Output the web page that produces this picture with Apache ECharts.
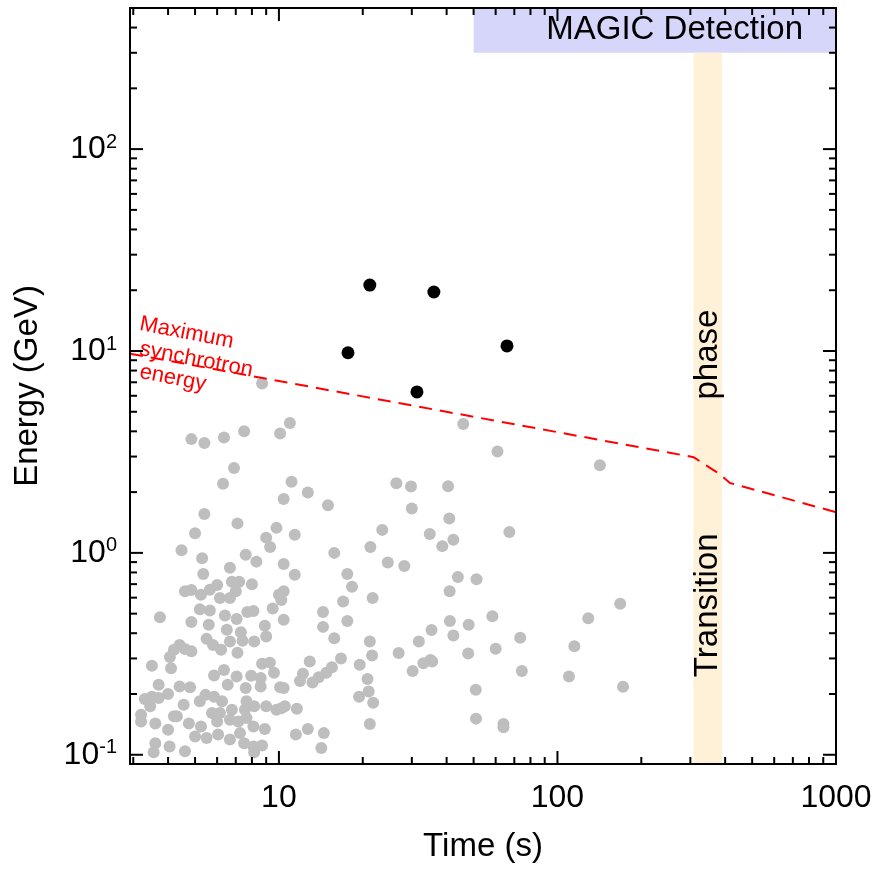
<!DOCTYPE html>
<html>
<head>
<meta charset="utf-8">
<script src="https://cdn.jsdelivr.net/npm/echarts@6/dist/echarts.min.js"></script>
<style>
  html, body { margin: 0; padding: 0; background: #fff; }
  #main { width: 881px; height: 869px; }
</style>
</head>
<body>
<div id="main"></div>
<script>
// axis ranges
const xMin = 2.92, xMax = 1000;
const yMin = 0.09, yMax = 500;

const xMajorTicks = [10, 100, 1000];
const xMinorTicks = [3, 4, 5, 6, 7, 8, 9, 20, 30, 40, 50, 60, 70, 80, 90, 200, 300, 400, 500, 600, 700, 800, 900];
const yMajorTicks = [0.1, 1, 10, 100];
const yMinorTicks = [0.2, 0.3, 0.4, 0.5, 0.6, 0.7, 0.8, 0.9, 2, 3, 4, 5, 6, 7, 8, 9, 20, 30, 40, 50, 60, 70, 80, 90, 200, 300, 400, 500];

// [time (s), energy (GeV)]
const grayPhotons = [
  [8.7, 6.9], [4.85, 3.66], [5.4, 3.5], [6.35, 3.73], [7.5, 4.0], [10.1, 3.9], [10.95, 4.4],
  [6.9, 2.63], [6.3, 2.2], [5.4, 1.56], [7.1, 1.4], [5.0, 1.25], [4.47, 1.03], [5.3, 0.94],
  [7.6, 0.98], [8.3, 0.905], [9.8, 1.33], [9.0, 1.19], [9.3, 1.07], [11.1, 2.25], [10.4, 1.85],
  [11.4, 1.23], [12.7, 1.99], [5.35, 0.785], [6.67, 0.845], [10.4, 0.88],
  [4.6, 0.645], [4.85, 0.655], [5.25, 0.62], [5.65, 0.656], [6.0, 0.694], [6.14, 0.597],
  [6.67, 0.597], [6.78, 0.72], [7.2, 0.72], [7.0, 0.645], [8.0, 0.70], [10.0, 0.62], [9.5, 0.53],
  [3.74, 0.48], [4.85, 0.454], [5.2, 0.526], [5.65, 0.518], [5.6, 0.44], [6.4, 0.49], [7.05, 0.47],
  [7.7, 0.51], [8.1, 0.515], [6.5, 0.416], [7.3, 0.405], [8.9, 0.435], [9.0, 0.385], [5.5, 0.375],
  [5.8, 0.35], [6.2, 0.331], [6.67, 0.364], [7.4, 0.367], [8.15, 0.364], [7.1, 0.32], [4.4, 0.35],
  [4.2, 0.331], [4.06, 0.305], [4.85, 0.326], [4.6, 0.334], [3.5, 0.276], [4.1, 0.268], [5.85, 0.247],
  [6.35, 0.263], [7.05, 0.244], [7.95, 0.246], [8.6, 0.24], [8.7, 0.282], [9.28, 0.286], [9.6, 0.255],
  [10.1, 0.216], [9.8, 0.167], [3.7, 0.222], [4.4, 0.218], [4.8, 0.216], [6.55, 0.222], [7.6, 0.214],
  [8.6, 0.218], [3.3, 0.189], [3.5, 0.194], [3.7, 0.191], [4.0, 0.2], [3.2, 0.158], [3.45, 0.174],
  [4.55, 0.177], [5.2, 0.184], [5.45, 0.198], [5.85, 0.194], [6.25, 0.184], [5.75, 0.161], [6.14, 0.161],
  [6.78, 0.167], [7.65, 0.184], [8.15, 0.174], [9.0, 0.174], [3.2, 0.146], [3.6, 0.143], [4.0, 0.133],
  [4.3, 0.155], [4.75, 0.143], [6.0, 0.146], [6.67, 0.149], [7.15, 0.146], [7.65, 0.152], [8.1, 0.138],
  [8.9, 0.134], [3.6, 0.114], [3.55, 0.103], [4.05, 0.11], [4.6, 0.104], [5.0, 0.123], [5.5, 0.121],
  [6.05, 0.126], [6.67, 0.119], [7.25, 0.128], [7.5, 0.114], [8.1, 0.11], [8.7, 0.111], [8.15, 0.103],
  [5.25, 0.138], [4.2, 0.155], [7.55, 0.167],
  [15.0, 1.72], [26.4, 2.21], [29.8, 2.13], [30, 1.66], [23.5, 1.30], [34.8, 1.24], [15.8, 1.0],
  [21.3, 1.07], [24.6, 0.895], [28.2, 0.862], [11.4, 0.78], [17.6, 0.785],
  [18.3, 0.68], [21.7, 0.597], [10.4, 0.645], [10.2, 0.585], [10.4, 0.466], [14.4, 0.51], [14.4, 0.43],
  [17.0, 0.575], [17.6, 0.46], [15.8, 0.378], [21.2, 0.364], [21.6, 0.31], [19.5, 0.279], [16.7, 0.30],
  [15.5, 0.271], [14.8, 0.255], [13.9, 0.242], [13.2, 0.228], [12.2, 0.252], [11.9, 0.232], [12.9, 0.29],
  [10.4, 0.214], [10.2, 0.17], [10.5, 0.174], [11.6, 0.169], [20.8, 0.237], [21.0, 0.206], [19.4, 0.194],
  [21.8, 0.181], [21.2, 0.142], [12.7, 0.134], [11.5, 0.126], [14.5, 0.128], [14.2, 0.108], [26.9, 0.319],
  [31.8, 0.364], [35.3, 0.415], [30.2, 0.26], [33, 0.284], [35, 0.295],
  [45.9, 4.35], [60.9, 3.18], [142, 2.72], [40.5, 2.14], [40.9, 1.48], [38.6, 1.08], [42.3, 1.16],
  [67.2, 1.27], [43.9, 0.76], [51.2, 0.74], [41, 0.645], [41.1, 0.46], [42.3, 0.39], [48, 0.44],
  [58.4, 0.485], [35.5, 0.29], [47.8, 0.317], [60, 0.335], [73.5, 0.38], [74.5, 0.26], [50.9, 0.21],
  [51, 0.151], [64, 0.142], [64, 0.137], [115, 0.345], [129, 0.475], [168, 0.56], [110, 0.244], [172, 0.217]
];

const magicPhotons = [[17.7, 9.8], [21.2, 21.2], [36, 19.6], [31.3, 6.27], [65.9, 10.6]];

const maxSynchrotron = [[2.92, 9.7], [308, 2.98], [383, 2.45], [416, 2.22], [1000, 1.59]];

// shaded regions: [x0, x1, y0, y1]
const magicBox = [50, xMax, 300, yMax];
const transitionBand = [308, 390, yMin, 300];

const font = 'Liberation Sans, Arial, Helvetica, sans-serif';
const chart = echarts.init(document.getElementById('main'));

function tickItem(len, isX) {
  return function (params, api) {
    const v = api.value(isX ? 0 : 1);
    let a, b;
    if (isX) {
      a = api.coord([v, yMin]);
      b = api.coord([v, yMax]);
      return {
        type: 'group',
        children: [
          { type: 'line', shape: { x1: a[0], y1: a[1], x2: a[0], y2: a[1] - len }, style: { stroke: '#000', lineWidth: 2 } },
          { type: 'line', shape: { x1: b[0], y1: b[1], x2: b[0], y2: b[1] + len }, style: { stroke: '#000', lineWidth: 2 } }
        ]
      };
    }
    a = api.coord([xMin, v]);
    b = api.coord([xMax, v]);
    return {
      type: 'group',
      children: [
        { type: 'line', shape: { x1: a[0], y1: a[1], x2: a[0] + len, y2: a[1] }, style: { stroke: '#000', lineWidth: 2 } },
        { type: 'line', shape: { x1: b[0], y1: b[1], x2: b[0] - len, y2: b[1] }, style: { stroke: '#000', lineWidth: 2 } }
      ]
    };
  };
}

function tickSeries(values, len, isX) {
  return {
    type: 'custom',
    coordinateSystem: 'cartesian2d',
    silent: true,
    clip: false,
    z: 20,
    data: values.map(v => isX ? [v, yMin] : [xMin, v]),
    renderItem: tickItem(len, isX)
  };
}

chart.setOption({
  animation: false,
  grid: { left: 130, right: 45, top: 8, bottom: 105 },
  xAxis: [{
    type: 'log',
    min: xMin,
    max: xMax,
    z: 20,
    name: 'Time (s)',
    nameLocation: 'middle',
    nameGap: 66,
    nameTextStyle: { fontFamily: font, fontSize: 33, color: '#000' },
    axisLine: { lineStyle: { color: '#000', width: 2 } },
    axisTick: { show: false },
    splitLine: { show: false },
    axisLabel: {
      customValues: xMajorTicks,
      margin: 18,
      fontFamily: font,
      fontSize: 32,
      color: '#000',
      formatter: v => String(Math.round(v))
    }
  }, {
    type: 'log', min: xMin, max: xMax, position: 'top', z: 20,
    axisLine: { lineStyle: { color: '#000', width: 2 } },
    axisTick: { show: false }, axisLabel: { show: false }, splitLine: { show: false }
  }],
  yAxis: [{
    type: 'log',
    min: yMin,
    max: yMax,
    z: 20,
    name: 'Energy (GeV)',
    nameLocation: 'middle',
    nameGap: 86,
    nameTextStyle: { fontFamily: font, fontSize: 33, color: '#000' },
    axisLine: { lineStyle: { color: '#000', width: 2 } },
    axisTick: { show: false },
    splitLine: { show: false },
    axisLabel: {
      customValues: yMajorTicks,
      margin: 13,
      formatter: v => '{b|10}{s|' + Math.round(Math.log10(v)) + '}',
      rich: {
        b: { fontFamily: font, fontSize: 32, color: '#000' },
        s: { fontFamily: font, fontSize: 20, color: '#000', verticalAlign: 'top', padding: [0, 0, 14, 0] }
      }
    }
  }, {
    type: 'log', min: yMin, max: yMax, position: 'right', z: 20,
    axisLine: { lineStyle: { color: '#000', width: 2 } },
    axisTick: { show: false }, axisLabel: { show: false }, splitLine: { show: false }
  }],
  series: [
    {
      type: 'line',
      data: [],
      z: 1,
      silent: true,
      markArea: {
        silent: true,
        data: [
          [{ coord: [magicBox[0], magicBox[2]], itemStyle: { color: '#d6d6fa' },
             label: { show: true, position: 'insideRight', distance: 33, formatter: 'MAGIC Detection',
                      fontFamily: font, fontSize: 33, color: '#000' } },
           { coord: [magicBox[1], magicBox[3]] }],
          [{ coord: [transitionBand[0], transitionBand[2]], itemStyle: { color: '#fff0d8' }, label: { show: false } },
           { coord: [transitionBand[1], transitionBand[3]] }]
        ]
      }
    },
    {
      type: 'scatter',
      data: grayPhotons,
      symbolSize: 12,
      itemStyle: { color: '#bebebe', opacity: 1 },
      z: 3
    },
    {
      type: 'line',
      data: maxSynchrotron,
      showSymbol: false,
      symbol: 'none',
      lineStyle: { color: '#ff0000', width: 2, type: [13, 8] },
      z: 4
    },
    {
      type: 'scatter',
      data: magicPhotons,
      symbolSize: 13,
      itemStyle: { color: '#000', opacity: 1 },
      z: 5
    },
    tickSeries(xMajorTicks, 13, true),
    tickSeries(xMinorTicks, 7, true),
    tickSeries(yMajorTicks, 13, false),
    tickSeries(yMinorTicks, 7, false)
  ]
});

// annotation texts placed at data positions
const phasePos = chart.convertToPixel({ gridIndex: 0 }, [347, 9.6]);
const transPos = chart.convertToPixel({ gridIndex: 0 }, [347, 0.55]);
const redText = { fill: '#ff0000', font: '22px ' + font, align: 'left', verticalAlign: 'top' };
const rot = -11 * Math.PI / 180;
chart.setOption({
  graphic: [
    { type: 'text', x: phasePos[0], y: phasePos[1], rotation: Math.PI / 2, z: 30,
      style: { text: 'phase', fill: '#000', font: '33px ' + font, align: 'center', verticalAlign: 'middle' } },
    { type: 'text', x: transPos[0], y: transPos[1], rotation: Math.PI / 2, z: 30,
      style: { text: 'Transition', fill: '#000', font: '33px ' + font, align: 'center', verticalAlign: 'middle' } },
    { type: 'text', x: 142, y: 313, rotation: rot, z: 30, style: Object.assign({ text: 'Maximum' }, redText) },
    { type: 'text', x: 142, y: 338, rotation: rot, z: 30, style: Object.assign({ text: 'synchrotron' }, redText) },
    { type: 'text', x: 142, y: 361, rotation: rot, z: 30, style: Object.assign({ text: 'energy' }, redText) }
  ]
});
</script>
</body>
</html>
